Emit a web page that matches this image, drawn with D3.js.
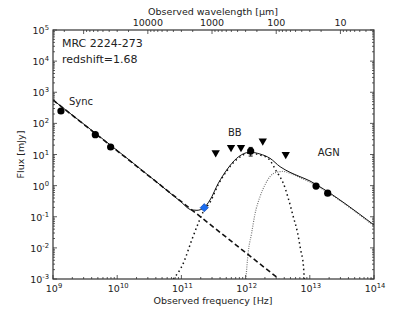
<!DOCTYPE html>
<html>
<head>
<meta charset="utf-8">
<script src="https://cdn.jsdelivr.net/npm/d3@7"></script>
<style>
  body { margin: 0; background: #fff; }
  text { font-family: "DejaVu Sans", sans-serif; fill: #222; }
</style>
</head>
<body>
<svg id="chart" width="416" height="312"></svg>
<script>
// photometry: [observed frequency Hz, flux mJy]
const detections = [[1.33e9, 250], [4.56e9, 43.3], [7.9e9, 17.4], [1.2e12, 12.9], [1.25e13, 0.97], [1.9e13, 0.57]];
const detectionErr = [[1.2e12, 8.9, 16.9]];
const almaPoint = [[2.27e11, 0.195]];
const upperLimits = [[3.42e11, 11.4], [5.93e11, 17.0], [8.48e11, 17.0], [1.85e12, 27.2], [4.22e12, 10.1]];

// model components
const syncModel = [[1e9, 564], [3.31e12, 1e-3]];
const bbModel = [[7.48e10, 1e-3], [1.07e11, 3.19e-3], [1.45e11, 0.0179], [1.83e11, 0.0617], [2.19e11, 0.145],
  [2.79e11, 0.29], [3.76e11, 1.09], [5.08e11, 2.95], [7.26e11, 6.9], [1.17e12, 11.2], [1.67e12, 9.6],
  [2.26e12, 7.43], [3.05e12, 2.8], [3.87e12, 1.19], [4.62e12, 0.392], [5.53e12, 0.100], [6.39e12, 0.0331],
  [7.21e12, 8.55e-3], [7.93e12, 2.82e-3], [8.21e12, 1e-3]];
const agnModel = [[1.01e12, 1e-3], [1.10e12, 7.4e-3], [1.24e12, 0.0294], [1.40e12, 0.122], [1.67e12, 0.432],
  [2.0e12, 1.05], [2.40e12, 1.96], [3.05e12, 2.7], [3.87e12, 2.85], [4.92e12, 2.5], [7.03e12, 1.8],
  [1.007e13, 1.3], [1.25e13, 1.02], [1e14, 0.0505]];
const totalModel = [[1e9, 564], [4.64e10, 1.07], [9.5e10, 0.32], [1.45e11, 0.165], [1.75e11, 0.161],
  [2.27e11, 0.2], [2.79e11, 0.345], [3.76e11, 1.19], [5.08e11, 3.18], [7.26e11, 7.55], [1.17e12, 11.8],
  [1.67e12, 10.4], [2.40e12, 7.55], [3.44e12, 4.06], [4.92e12, 2.68], [7.03e12, 1.94], [1.007e13, 1.41],
  [1.25e13, 1.09], [1e14, 0.0543]];

const freqExps = [9, 10, 11, 12, 13, 14];
const fluxExps = [-3, -2, -1, 0, 1, 2, 3, 4, 5];
const wavelengthTicks = [10000, 1000, 100, 10];
const labels = [{ t: "Sync", f: 1.77e9, s: 390 }, { t: "BB", f: 5.3e11, s: 39 }, { t: "AGN", f: 1.33e13, s: 8.95 }];

const C = 3e14; // um * Hz
const m = { left: 53, right: 374, top: 30, bottom: 279 };
const svg = d3.select("#chart");

const x = d3.scaleLog().domain([1e9, 1e14]).range([m.left, m.right]);
const y = d3.scaleLog().domain([1e-3, 1e5]).range([m.bottom, m.top]);

const minorOf = (lo, hi) => {
  const out = [];
  for (let e = Math.floor(Math.log10(lo)); e <= Math.ceil(Math.log10(hi)); e++) {
    for (let k = 2; k <= 9; k++) {
      const v = k * Math.pow(10, e);
      if (v > lo && v < hi) out.push(v);
    }
  }
  return out;
};

const line = d3.line().x(d => x(d[0])).y(d => y(d[1])).curve(d3.curveMonotoneX);

const plot = svg.append("g");
plot.append("defs").append("clipPath").attr("id", "clip")
  .append("rect").attr("x", m.left).attr("y", m.top)
  .attr("width", m.right - m.left).attr("height", m.bottom - m.top);
const curves = plot.append("g").attr("clip-path", "url(#clip)");

curves.append("path").attr("d", line(agnModel))
  .attr("fill", "none").attr("stroke", "#777").attr("stroke-width", 1.2).attr("stroke-dasharray", "1,1.3");
curves.append("path").attr("d", line(bbModel))
  .attr("fill", "none").attr("stroke", "#111").attr("stroke-width", 1.5).attr("stroke-dasharray", "1.5,3");
curves.append("path").attr("d", line(syncModel))
  .attr("fill", "none").attr("stroke", "#111").attr("stroke-width", 1.6).attr("stroke-dasharray", "5,3");
curves.append("path").attr("d", line(totalModel))
  .attr("fill", "none").attr("stroke", "#111").attr("stroke-width", 1);

// error bar
const eb = plot.append("g").attr("stroke", "#111").attr("stroke-width", 1);
detectionErr.forEach(d => {
  eb.append("line").attr("x1", x(d[0])).attr("x2", x(d[0])).attr("y1", y(d[1])).attr("y2", y(d[2]));
  [d[1], d[2]].forEach(v => eb.append("line").attr("x1", x(d[0]) - 2).attr("x2", x(d[0]) + 2)
    .attr("y1", y(v)).attr("y2", y(v)));
});

plot.append("g").selectAll("circle").data(detections).join("circle")
  .attr("cx", d => x(d[0])).attr("cy", d => y(d[1])).attr("r", 3.6).attr("fill", "#000");

plot.append("g").selectAll("path").data(upperLimits).join("path")
  .attr("d", d3.symbol(d3.symbolTriangle, 30))
  .attr("transform", d => `translate(${x(d[0])},${y(d[1])}) rotate(180)`)
  .attr("fill", "#000");

plot.append("g").selectAll("path").data(almaPoint).join("path")
  .attr("d", d3.symbol(d3.symbolSquare, 34))
  .attr("transform", d => `translate(${x(d[0])},${y(d[1])}) rotate(45)`)
  .attr("fill", "#1a6cf0").attr("stroke", "#0a3fa8").attr("stroke-width", 0.6);

// frame
svg.append("rect").attr("x", m.left).attr("y", m.top)
  .attr("width", m.right - m.left).attr("height", m.bottom - m.top)
  .attr("fill", "none").attr("stroke", "#333").attr("stroke-width", 1.2);

const ticks = svg.append("g").attr("stroke", "#333").attr("stroke-width", 0.8);
const fMinor = minorOf(1e9, 1e14), sMinor = minorOf(1e-3, 1e5);
freqExps.forEach(e => {
  const xv = x(Math.pow(10, e));
  ticks.append("line").attr("x1", xv).attr("x2", xv).attr("y1", m.bottom).attr("y2", m.bottom - 4);
});
fMinor.forEach(v => ticks.append("line").attr("x1", x(v)).attr("x2", x(v)).attr("y1", m.bottom).attr("y2", m.bottom - 2));
fluxExps.forEach(e => {
  const yv = y(Math.pow(10, e));
  ticks.append("line").attr("x1", m.left).attr("x2", m.left + 4).attr("y1", yv).attr("y2", yv);
  ticks.append("line").attr("x1", m.right).attr("x2", m.right - 4).attr("y1", yv).attr("y2", yv);
});
sMinor.forEach(v => {
  ticks.append("line").attr("x1", m.left).attr("x2", m.left + 2).attr("y1", y(v)).attr("y2", y(v));
  ticks.append("line").attr("x1", m.right).attr("x2", m.right - 2).attr("y1", y(v)).attr("y2", y(v));
});
// top wavelength axis
const lMinor = minorOf(C / 1e14, C / 1e9);
wavelengthTicks.forEach(w => {
  const xv = x(C / w);
  ticks.append("line").attr("x1", xv).attr("x2", xv).attr("y1", m.top).attr("y2", m.top + 4);
});
lMinor.forEach(w => {
  if (wavelengthTicks.includes(w)) return;
  const xv = x(C / w);
  ticks.append("line").attr("x1", xv).attr("x2", xv).attr("y1", m.top).attr("y2", m.top + 2);
});
[1e0, 1e1, 1e2, 1e3, 1e4, 1e5].forEach(w => {
  if (wavelengthTicks.includes(w)) return;
  const v = C / w;
  if (v < 1e9 || v > 1e14) return;
  ticks.append("line").attr("x1", x(v)).attr("x2", x(v)).attr("y1", m.top).attr("y2", m.top + 4);
});

// tick labels
const powLabel = (g, e, px, py, anchor) => {
  const t = g.append("text").attr("x", px).attr("y", py).attr("text-anchor", anchor).attr("font-size", 9.5);
  t.append("tspan").text("10");
  t.append("tspan").attr("dy", -4).attr("font-size", 6.8).text(e);
};
const tl = svg.append("g");
freqExps.forEach(e => powLabel(tl, e, x(Math.pow(10, e)) + 1, 292, "middle"));
fluxExps.forEach(e => powLabel(tl, e, 49, y(Math.pow(10, e)) + 4, "end"));
wavelengthTicks.forEach(w => tl.append("text").attr("x", x(C / w)).attr("y", 26)
  .attr("text-anchor", "middle").attr("font-size", 9.5).text(w));

svg.append("text").attr("x", 213).attr("y", 304).attr("text-anchor", "middle").attr("font-size", 9.5)
  .text("Observed frequency [Hz]");
svg.append("text").attr("x", 213).attr("y", 15).attr("text-anchor", "middle").attr("font-size", 9.5)
  .text("Observed wavelength [\u03bcm]");
svg.append("text").attr("transform", `translate(24,${(m.top + m.bottom) / 2}) rotate(-90)`)
  .attr("text-anchor", "middle").attr("font-size", 9.5).text("Flux [mJy]");

svg.append("text").attr("x", 62).attr("y", 47).attr("font-size", 11).text("MRC 2224-273");
svg.append("text").attr("x", 62).attr("y", 63).attr("font-size", 11).text("redshift=1.68");

svg.append("g").selectAll("text").data(labels).join("text")
  .attr("x", d => x(d.f)).attr("y", d => y(d.s)).attr("font-size", 10).text(d => d.t);
</script>
</body>
</html>
